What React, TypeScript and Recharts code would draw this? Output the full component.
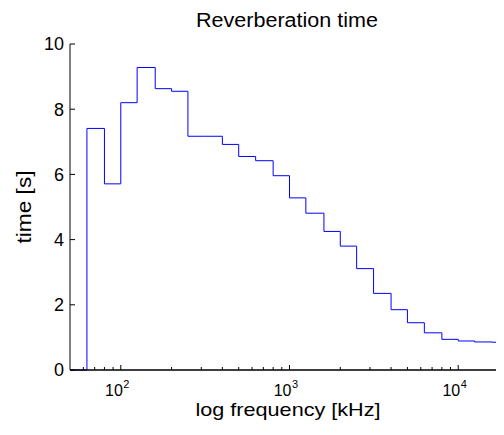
import React from 'react';
import { LineChart, Line, XAxis, YAxis, ReferenceLine } from 'recharts';

// third-octave band centres [Hz] and measured reverberation time [s]
const bandFreqs = [50, 63, 80, 100, 125, 160, 200, 250, 315, 400, 500, 630, 800, 1000, 1250, 1600, 2000, 2500, 3150, 4000, 5000, 6300, 8000, 10000, 12500, 16000, 20000];
const reverbTimes = [0, 7.41, 5.71, 8.2, 9.28, 8.63, 8.55, 7.17, 7.17, 6.92, 6.55, 6.42, 5.96, 5.28, 4.81, 4.25, 3.8, 3.11, 2.35, 1.85, 1.45, 1.14, 0.94, 0.89, 0.86, 0.85, 0.85];

const majorTicks = [100, 1000, 10000];
const xTicks = [60, 70, 80, 90, 100, 200, 300, 400, 500, 600, 700, 800, 900, 1000, 2000, 3000, 4000, 5000, 6000, 7000, 8000, 9000, 10000, 20000];
const yTicks = [0, 2, 4, 6, 8, 10];

const data = bandFreqs.map((f, i) => ({ f, t: reverbTimes[i] }));

const FONT = 'Arial, "Liberation Sans", sans-serif';

const BottomTick = (props: any) => {
  const { x, y, payload } = props;
  const v = payload.value;
  const major = majorTicks.includes(v);
  const exp = Math.round(Math.log10(v));
  return (
    <g>
      <line x1={x} x2={x} y1={y} y2={y - (major ? 5 : 3)} stroke="#000" strokeWidth={1} />
      {major && (
        <text fontFamily={FONT} fill="#000">
          <tspan x={x + 2} y={y + 26} fontSize={16} textAnchor="end">10</tspan>
          <tspan x={x + 2.5} y={y + 18} fontSize={11} textAnchor="start">{exp}</tspan>
        </text>
      )}
    </g>
  );
};

const TopTick = (props: any) => {
  const { x, y, payload } = props;
  const major = majorTicks.includes(payload.value);
  return <line x1={x} x2={x} y1={y} y2={y + (major ? 5 : 3)} stroke="#000" strokeWidth={1} />;
};

const LeftTick = (props: any) => {
  const { x, y, payload } = props;
  return (
    <g>
      <line x1={x} x2={x + 5} y1={y} y2={y} stroke="#000" strokeWidth={1} />
      <text x={x - 6} y={y} dy="0.35em" textAnchor="end" fontSize={18} fontFamily={FONT} fill="#000">
        {payload.value}
      </text>
    </g>
  );
};

export default function App() {
  return (
    <div style={{ position: 'relative', width: 496, height: 427, overflow: 'hidden', background: '#fff' }}>
      <LineChart width={502} height={427} data={data} margin={{ top: 36, right: 1, bottom: 0, left: 0 }}>
        <XAxis
          xAxisId="top"
          orientation="top"
          dataKey="f"
          type="number"
          scale="log"
          domain={[50, 20000]}
          allowDataOverflow
          ticks={xTicks}
          interval={0}
          height={0}
          tickSize={0}
          tickMargin={0}
          tick={<TopTick />}
          axisLine={{ stroke: '#000' }}
          tickLine={false}
        />
        <XAxis
          dataKey="f"
          type="number"
          scale="log"
          domain={[50, 20000]}
          allowDataOverflow
          ticks={xTicks}
          interval={0}
          height={65}
          tickSize={0}
          tickMargin={0}
          tick={<BottomTick />}
          axisLine={{ stroke: '#000' }}
          tickLine={false}
        />
        <YAxis
          type="number"
          domain={[0, 10]}
          ticks={yTicks}
          interval={0}
          width={62}
          tickSize={0}
          tickMargin={0}
          tick={<LeftTick />}
          axisLine={{ stroke: '#000' }}
          tickLine={false}
        />
        <Line
          type="stepAfter"
          dataKey="t"
          stroke="#0000ff"
          strokeWidth={1}
          dot={false}
          isAnimationActive={false}
        />
        <ReferenceLine y={0} stroke="#000" strokeWidth={1} />
      </LineChart>
      <svg width={496} height={427} style={{ position: 'absolute', left: 0, top: 0, pointerEvents: 'none' }}>
        <text x={279} y={19} textAnchor="middle" fontSize={20} fontFamily={FONT} fill="#000" textLength={182} lengthAdjust="spacingAndGlyphs">
          Reverberation time
        </text>
        <text x={280} y={408} textAnchor="middle" fontSize={19} fontFamily={FONT} fill="#000" textLength={185} lengthAdjust="spacingAndGlyphs">
          log frequency [kHz]
        </text>
        <text x={23} y={199} transform="rotate(-90 23 199)" textAnchor="middle" fontSize={20} fontFamily={FONT} fill="#000" textLength={73} lengthAdjust="spacingAndGlyphs">
          time [s]
        </text>
      </svg>
    </div>
  );
}
